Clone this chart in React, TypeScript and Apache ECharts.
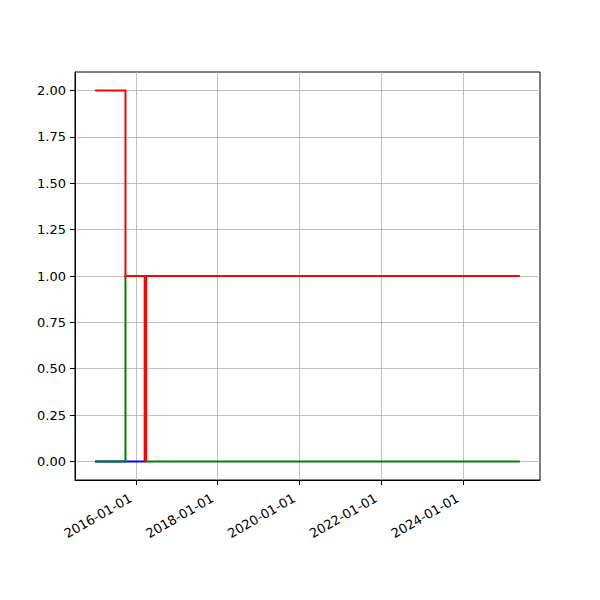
import React, { useEffect, useRef } from "react";
import * as echarts from "echarts";

// Dates (YYYY-MM-DD) where values change
const startDate = "2015-01-12";
const step1Date = "2015-10-01";
const step2Date = "2016-03-27";
const endDate = "2025-05-15";

// Series values (date, value) pairs
const redDates = [startDate, step1Date, step1Date, endDate];
const redValues = [2, 2, 1, 1];
const red2Dates = [step2Date, step2Date];
const red2Values = [0, 1];
const greenDates = [startDate, step1Date, step1Date, step2Date, step2Date, endDate];
const greenValues = [0, 0, 1, 1, 0, 0];
const blueDates = [startDate, step2Date];
const blueValues = [0, 0];

// Tick labels
const yTicks = [0, 0.25, 0.5, 0.75, 1.0, 1.25, 1.5, 1.75, 2.0];
const xTickLabels = ["2016-01-01", "2018-01-01", "2020-01-01", "2022-01-01", "2024-01-01"];

const toTs = (s: string) => {
  const [y, m, d] = s.split("-").map(Number);
  return Date.UTC(y, m - 1, d);
};
const pad = (n: number) => (n < 10 ? "0" + n : "" + n);
const fmt = (v: number) => {
  const d = new Date(v);
  return d.getUTCFullYear() + "-" + pad(d.getUTCMonth() + 1) + "-" + pad(d.getUTCDate());
};
const pairs = (ds: string[], vs: number[]) => ds.map((d, i) => [toTs(d), vs[i]]);

export default function App() {
  const ref = useRef<HTMLDivElement>(null);
  useEffect(() => {
    if (!ref.current) return;
    const chart = echarts.init(ref.current, undefined, { renderer: "svg" });
    const t0 = toTs(startDate);
    const t1 = toTs(endDate);
    const span = t1 - t0;
    const xTickVals = xTickLabels.map(toTs);
    const gridLine = { color: "#b0b0b0", width: 0.8, type: "solid" as const };
    const font = "DejaVu Sans";
    const lineOf = (color: string, width: number, cap: "square" | "butt" = "square") => ({
      color,
      width,
      cap,
      join: "miter" as const,
    });
    chart.setOption({
      animation: false,
      backgroundColor: "#ffffff",
      grid: {
        left: 75,
        right: 60,
        top: 72,
        bottom: 120,
        show: true,
        borderColor: "#000000",
        borderWidth: 1,
        backgroundColor: "transparent",
      },
      xAxis: {
        type: "value",
        min: t0 - span * 0.05,
        max: t1 + span * 0.05,
        splitLine: { show: false },
        axisLine: { show: true, onZero: false, lineStyle: { color: "#000", width: 1 } },
        axisTick: {
          show: true,
          customValues: xTickVals,
          length: 5,
          lineStyle: { color: "#000", width: 1 },
        },
        axisLabel: {
          customValues: xTickVals,
          rotate: 30,
          formatter: (v: number) => fmt(v),
          color: "#000",
          fontFamily: font,
          fontSize: 13,
          margin: 14,
          padding: [0, 6, 0, 0],
        },
      },
      yAxis: {
        type: "value",
        min: -0.1,
        max: 2.1,
        splitLine: { show: false },
        axisLine: { show: true, onZero: false, lineStyle: { color: "#000", width: 1 } },
        axisTick: {
          show: true,
          customValues: yTicks,
          length: 5,
          lineStyle: { color: "#000", width: 1 },
        },
        axisLabel: {
          customValues: yTicks,
          formatter: (v: number) => v.toFixed(2),
          color: "#000",
          fontFamily: font,
          fontSize: 13,
          margin: 9,
        },
      },
      series: [
        {
          type: "line",
          z: 0,
          data: [],
          silent: true,
          markLine: {
            z: 0,
            silent: true,
            symbol: "none",
            label: { show: false },
            lineStyle: gridLine,
            emphasis: { disabled: true },
            data: [
              ...yTicks.map((v) => ({ yAxis: v })),
              ...xTickVals.map((v) => ({ xAxis: v })),
            ],
          },
        },
        {
          type: "line",
          data: pairs(blueDates, blueValues),
          showSymbol: false,
          lineStyle: lineOf("#0000ff", 2),
          z: 2,
        },
        {
          type: "line",
          data: pairs(greenDates, greenValues),
          showSymbol: false,
          lineStyle: lineOf("#008000", 2),
          z: 3,
        },
        {
          type: "line",
          data: pairs(redDates, redValues),
          showSymbol: false,
          lineStyle: lineOf("#ff0000", 2),
          z: 4,
        },
        {
          type: "line",
          data: pairs(red2Dates, red2Values),
          showSymbol: false,
          lineStyle: lineOf("#ff0000", 3.5, "butt"),
          z: 5,
        },
      ],
    });
    return () => chart.dispose();
  }, []);
  return <div ref={ref} style={{ width: 600, height: 600, margin: -8 }} />;
}
